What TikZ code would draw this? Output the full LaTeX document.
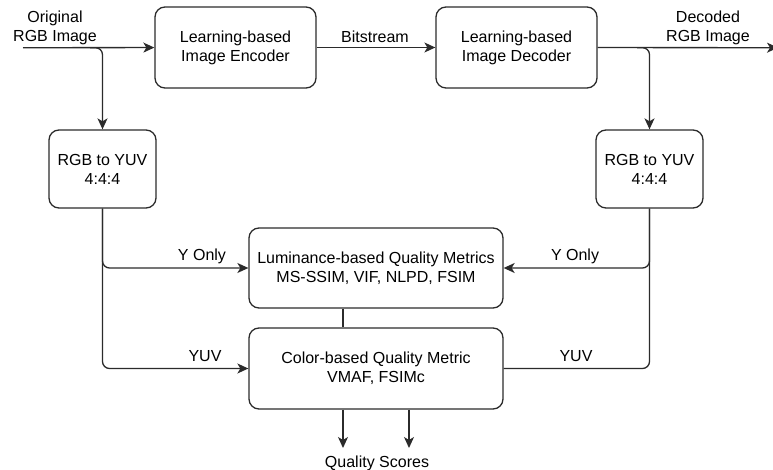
\documentclass[tikz,border=0pt]{standalone}
\usepackage{fontspec}
\setmainfont{Liberation Sans}
\usepackage{tikz}
\usetikzlibrary{arrows.meta, positioning, calc}
\definecolor{LineGray}{HTML}{2B2B2B}

\begin{document}
\begin{tikzpicture}[
  x=1pt, y=-1pt,
  block/.style={rectangle, draw=LineGray, line width=1.3pt, rounded corners=10pt,
    align=center, font=\fontsize{16}{19}\selectfont, inner sep=0pt},
  lbl/.style={align=center, font=\fontsize{16}{19}\selectfont, inner sep=0pt},
  link/.style={draw=LineGray, line width=1.3pt, rounded corners=7pt},
  arr/.style={link, -{Stealth[length=11pt, width=10pt, inset=3pt]}}
]
\useasboundingbox (0,0) rectangle (773,470);

% Codec blocks
\node[block, minimum width=161pt, minimum height=81pt] (encoder) at (235.5,47.5)
  {Learning-based\\Image Encoder};
\node[block, minimum width=161pt, minimum height=81pt] (decoder) at (516.5,47.5)
  {Learning-based\\Image Decoder};

% Colour conversion
\node[block, minimum width=107pt, minimum height=78pt] (convL) at (102.5,169)
  {RGB to YUV\\4:4:4};
\node[block, minimum width=107pt, minimum height=78pt] (convR) at (649.5,169)
  {RGB to YUV\\4:4:4};

% Metrics
\node[block, minimum width=254pt, minimum height=80pt] (luma) at (376,268)
  {Luminance-based Quality Metrics\\MS-SSIM, VIF, NLPD, FSIM};
\node[block, minimum width=254pt, minimum height=81pt] (color) at (376,368.5)
  {Color-based Quality Metric\\VMAF, FSIMc};

% Free ends
\coordinate (in) at (23,47.7);
\coordinate (out) at (778,47.7);
\coordinate (splitL) at (90,47.7);
\coordinate (splitR) at (637,47.7);
\coordinate (qs1) at (343,448);
\coordinate (qs2) at (409,448);

% Labels
\node[lbl] (lblIn) at (55,28) {Original\\RGB Image};
\node[lbl] (lblOut) at (708,28) {Decoded\\RGB Image};
\node[lbl] (lblBits) at (375,37) {Bitstream};
\node[lbl] (lblYL) at (202,256) {Y Only};
\node[lbl] (lblYR) at (575,256) {Y Only};
\node[lbl] (lblUVL) at (205,356) {YUV};
\node[lbl] (lblUVR) at (576,356) {YUV};
\node[lbl] (scores) at (377,463) {Quality Scores};

% Main chain
\draw[arr] (in) -- (encoder);
\draw[arr] (encoder) -- (decoder);
\draw[arr] (decoder) -- (out);

% Branches to conversion
\draw[arr] (splitL) -| (convL);
\draw[arr] (splitR) -| (convR);

% Into metrics
\draw[arr] (convL) |- (luma);
\draw[arr] (convL) |- (color);
\draw[arr] (convR) |- (luma);
\draw[link] (convR) |- (color);
\draw[link] (luma.south -| qs1) -- (color.north -| qs1);

% Scores
\draw[arr] (color.south -| qs1) -- (qs1);
\draw[arr] (color.south -| qs2) -- (qs2);

\end{tikzpicture}
\end{document}
